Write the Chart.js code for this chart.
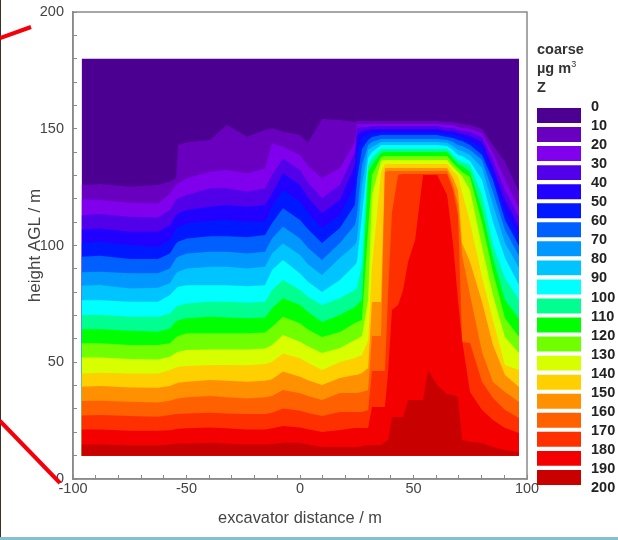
<!DOCTYPE html>
<html>
<head>
<meta charset="utf-8">
<script src="https://cdn.jsdelivr.net/npm/chart.js@4"></script>
<style>
html, body { margin: 0; padding: 0; background: #fff; overflow: hidden; }
#wrap { position: relative; width: 618px; height: 540px; font-family: "Liberation Sans", Arial, sans-serif; }
canvas { position: absolute; top: 0; filter: blur(0.45px); }
#contour { left: 0; }
#key { left: 537px; }
#edge { position: absolute; left: 0; top: 0; width: 1px; height: 537px; background: #3d3126; }
#foot { position: absolute; left: 0; top: 537px; width: 618px; height: 3px; background: #86bfd0; }
#keyhead { position: absolute; left: 537px; top: 40px; font-size: 14.5px; font-weight: bold; line-height: 19px; color: #333; }
#keyhead sup { font-size: 9px; font-weight: normal; line-height: 0; }
svg { position: absolute; left: 0; top: 0; }
</style>
</head>
<body>
<div id="wrap">
  <canvas id="contour" width="618" height="540"></canvas>
  <canvas id="key" width="81" height="540"></canvas>
  <div id="edge"></div>
  <div id="foot"></div>
  <div id="keyhead">coarse<br>µg m<sup>3</sup><br>Z</div>
  <svg width="618" height="540">
    <line x1="0" y1="38" x2="31" y2="27" stroke="#f5000a" stroke-width="4"/>
    <line x1="0" y1="421" x2="60" y2="483" stroke="#f5000a" stroke-width="4"/>
  </svg>
</div>
<script>
// contour levels, one band per 10 units
var levels = [0, 10, 20, 30, 40, 50, 60, 70, 80, 90, 100, 110, 120, 130, 140, 150, 160, 170, 180, 190]
var keyTicks = [0, 10, 20, 30, 40, 50, 60, 70, 80, 90, 100, 110, 120, 130, 140, 150, 160, 170, 180, 190, 200]
var bandColors = ['#4b0092', '#6a00bf', '#8000ee', '#5200ea', '#2200ff', '#0018ff', '#0060ff', '#0098ff', '#00c4ff', '#00ffff',
                  '#00ff90', '#00ff00', '#70ff00', '#d8ff00', '#ffd000', '#ff9000', '#ff6000', '#ff3000', '#f50000', '#c80000']

// excavator distance of each column
var xs = [-96.2, -88.1, -74.9, -62.6, -57.3, -54.6, -53.7, -49.8, -39.6, -32.2, -23.3, -15.4, -12.3, -7.5, 0, 3.5, 9.7, 17.6, 24.2,
          25.1, 27.3, 30, 31.7, 35.7,
          37.4, 38.8, 40.5, 43.2, 45.4, 47.6, 50.7, 54.2, 56.4, 60.4,
          64.8, 67.4, 69.6, 71.4, 74.9, 80.2, 85, 90.3, 96.5]

// height of the top of each band at each column
var band0 = [180,180,180,180,180,180,180,180,180,180,180,180,180,180,180,180,180,180,180, 180,180,180,180,180, 180,180,180,180,180,180,180,180,180,180, 180,180,180,180,180,180,180,180,180]
var band1 = [125.9,126.3,125.2,125.9,127.3,128.8,143,144.2,145.2,151.6,146.6,149.5,150.2,148.7,147.3,144,154.2,153.8,152.9, 153.3,153.3,153.3,153.3,153.3, 153.3,153.3,153.3,153.3,153.3,153.3,153.3,153.3,153.3,153.3, 152.9,152.9,152.5,152,151.6,149.9,143,135.8,122.9]
var band2 = [119.8,119.5,118.3,118,122.3,125.9,126.6,128.8,131.6,132.3,130.9,133,143.8,142.3,138.8,134,128.9,133.2,144.3, 152,152,152,152,152, 152,152,152,152,152,152,152,152,152,152, 151.6,151.6,150.8,150.3,149.9,148.2,139.6,128.1,116.1]
var band3 = [113,113.5,112.3,112,115.2,119.5,120.2,121.6,124.5,124.5,123,124.5,130.2,137.3,132.3,127,120.3,125.9,140.1, 150.3,150.8,150.8,151.2,151.2, 151.2,151.2,151.2,151.2,151.2,151.2,151.2,151.2,151.2,151.2, 150.3,150.3,149.5,149,148.6,146.5,136.6,123.8,112.2]
var band4 = [106.9,107.3,105.9,105.9,108.8,113,113.8,115.2,116.6,117.3,116.6,117.3,122.3,130.9,125.9,120.5,113.9,119.5,134.5, 147.3,149,149.5,149.9,149.9, 149.9,149.9,149.9,149.9,149.9,149.9,149.9,149.9,149.9,149.9, 149,149,148.2,147.8,146.9,144.3,133.6,119.5,107.9]
var band5 = [101.2,101.6,100.2,99.5,102.3,107.3,108,109.5,110.6,110.9,110.2,110.2,116.6,123.8,118.8,114,107.5,113.1,125.9, 140.1,146.5,147.8,148.2,148.6, 148.6,148.6,148.6,148.6,148.6,148.6,148.6,148.6,148.6,148.6, 147.8,147.8,146.9,146.5,144.8,142.2,130.2,115.2,104.1]
var band6 = [95.2,95.6,94.2,94.2,96.6,100.9,101.6,103,104,104,103.5,104.5,109.5,115.9,110.9,107,101.1,107.5,117.4, 128.1,141.3,145.2,146.5,147.3, 147.3,147.3,147.3,147.3,147.3,147.3,147.3,147.3,147.3,147.3, 146.5,146,145.2,144.8,143,138.8,128.1,110.9,99.8]
var band7 = [88.5,88.8,88.1,88.1,90.2,94.5,95.2,96.6,97.3,97.3,96.6,97.3,103,108,103,99,93.8,101.1,108.8, 113.1,134.5,143,144.3,145.6, 145.6,145.6,145.6,145.6,145.6,145.6,145.6,145.6,145.6,145.6, 145.2,144.3,143,142.6,140.9,136.6,122.9,106.6,95.5]
var band8 = [82.8,83.1,81.6,81.9,83.8,88.1,88.8,90.2,90.9,90.9,90.2,90.9,96.6,100.9,95.9,92,87.4,94.7,100.2, 102.4,125.9,140.9,142.2,144.3, 144.3,144.3,144.3,144.3,144.3,144.3,144.3,144.3,144.3,144.3, 143.9,142.6,140.9,140.5,138.8,133.2,117.4,101.1,90.4]
var band9 = [76.6,76.6,75.9,75.9,78.8,81.6,82.3,83,83,83,82.6,83,89.5,93.8,88,84.5,80.1,85.2,91.7, 92.9,113.1,137.5,140,143, 143,143,143,143,143,143,143,143,143,143, 142.6,140.9,138.8,138.3,136.2,128.1,110.1,94.7,83.1]
var band10 = [70.2,70.2,69.5,69.5,70.9,73.8,74.2,75.2,75.9,75.9,75.5,75.9,80.9,85.2,80.9,78,74.5,77.5,80.9, 81.8,91.7,134.5,137.5,141.3, 141.3,141.3,141.3,141.3,141.3,141.3,141.3,141.3,141.3,141.3, 141.3,138.8,136.6,135.8,134.5,121.6,100.2,86.1,76.7]
var band11 = [64.1,64.1,63.5,63.1,64.5,67.4,68,68.8,69.5,69.2,68.8,69.2,73.1,77.4,74.5,71.5,67.2,70.2,73.7, 74.5,76.7,131.5,134.5,139.6, 140,140,140,140,140,140,140,140,140,140, 140,137.1,134.9,134.1,131.5,115.2,94.7,76.7,68.5]
var band12 = [58.1,58.1,57.4,57.4,58.1,60.7,61.2,62.4,62.4,62.4,62.4,62.7,65.2,69.5,66.7,64,60.8,63,66.8, 67.2,68.1,106.6,130.2,137.9, 138.3,138.3,138.3,138.3,138.3,138.3,138.3,138.3,138.3,138.3, 138.3,135.3,133.2,131.5,129.3,109.6,88.7,69,60.8]
var band13 = [52,52,51.4,51.2,52.4,54.1,54.5,55.2,55.5,55.5,55.5,55.9,57.4,61.7,58.8,56.8,54,56.1,59.5, 60,61.2,76.7,121.6,136.2, 136.6,136.6,136.6,136.6,136.6,136.6,136.6,136.6,136.6,136.6, 136.6,133.6,131.5,129.8,123.8,99.4,78.8,60.8,54]
var band14 = [45.2,45.5,45.2,45.2,46.7,47.8,48.1,48.4,48.8,48.8,48.7,49.2,50.2,53.8,51.7,49.8,46.7,50.1,51.8, 52.3,53.1,59.5,90.8,131.5, 134.9,134.9,134.9,134.9,134.9,134.9,134.9,134.9,134.9,134.9, 134.9,131.9,129.8,122.9,110.1,86.5,68.1,48.8,46.7]
var band15 = [39.5,39.8,39.2,39.1,39.8,40.9,41.2,41.7,42.4,42.1,41.7,42.1,42.7,46,43.8,42.3,40.3,43.3,44.5, 44.5,45.4,47.5,75.8,75.8, 133.2,133.2,133.2,133.2,133.2,133.2,133.2,133.2,133.2,133.2, 133.2,128.9,123.8,101.1,92.9,75.8,57.4,44.5,39.4]
var band16 = [33.4,33.5,33.1,32.8,33.5,34.4,34.5,35,35.5,35,34.5,35,35.5,38.1,36.7,35.5,33.8,36.8,36.8, 36.8,37.3,38.1,61.2,61.2, 131.5,131.9,131.9,131.9,131.9,131.9,131.9,131.9,131.9,131.9, 131.9,125.9,117.4,95.9,78.8,54.4,41.5,37.3,33]
var band17 = [27.2,27.4,27,26.7,27.4,27.8,27.8,28.1,28.4,28.1,27.8,27.8,28.4,30.2,29.2,28.3,27,28.7,28.7, 28.7,28.7,29.6,46.3,46.3, 46.3,79.7,113.9,130.2,130.6,130.6,130.6,130.6,130.6,130.6, 130.6,123.8,113.1,58.7,58.2,41.5,34.7,29.6,26.1]
var band18 = [21.2,21.2,20.7,20.7,20.9,21.4,21.5,21.7,22.1,21.7,21.2,21.2,21.7,22.7,22.1,21.3,20.1,21,21.8, 21.8,21.8,21.8,30.8,30.8, 30.8,45.8,72.4,74.5,80.9,92.9,102.4,130.2,130.2,130.2, 121.6,101.1,76.7,59.5,37.3,29.6,25.3,21.8,19.7]
var band19 = [14.8,14.8,14.5,14.5,14.8,15.1,15.2,15.2,15.5,15.2,14.8,14.8,15,15.5,15.5,14.8,13.7,13.7,13.7, 13.7,14.1,14.6,14.6,14.6, 15.8,16.7,26.6,26.6,26.6,33.8,33.8,33.8,46.7,40.3, 36.4,36,35.1,16.7,15.8,15.4,13.7,12.4,11.6]

var bandTops = [band0, band1, band2, band3, band4, band5, band6, band7, band8, band9,
                band10, band11, band12, band13, band14, band15, band16, band17, band18, band19]

var baseHeight = 10
var axisColor = '#8a8a8a'
var textColor = '#444'

// first dataset is painted last, so the highest band goes first
var datasets = []
for (var k = levels.length - 1; k >= 0; k--) {
    datasets.push({
        label: String(levels[k]),
        data: xs.map(function (x, i) { return { x: x, y: bandTops[k][i] } }),
        backgroundColor: bandColors[k],
        borderWidth: 0,
        pointRadius: 0,
        tension: 0,
        fill: { value: baseHeight }
    })
}

var areaBorder = {
    id: 'areaBorder',
    afterDraw: function (chart) {
        var a = chart.chartArea, ctx = chart.ctx
        ctx.save()
        ctx.strokeStyle = axisColor
        ctx.lineWidth = 1.5
        ctx.strokeRect(a.left, a.top, a.right - a.left, a.bottom - a.top)
        ctx.restore()
    }
}

function every50(v) { return v % 50 === 0 ? v : '' }

new Chart(document.getElementById('contour'), {
    type: 'line',
    data: { datasets: datasets },
    plugins: [areaBorder],
    options: {
        responsive: false,
        animation: false,
        layout: { padding: { top: 12, right: 91, left: 0, bottom: 0 } },
        plugins: { legend: { display: false }, tooltip: { enabled: false } },
        scales: {
            x: {
                type: 'linear', min: -100, max: 100,
                afterFit: function (s) { s.height = 61; s.paddingLeft = 0; s.paddingRight = 0 },
                grid: { drawOnChartArea: false, tickLength: -4, tickColor: axisColor, tickWidth: 1 },
                border: { color: axisColor, width: 1.5 },
                ticks: { stepSize: 10, autoSkip: false, maxRotation: 0, padding: 5, color: textColor, font: { size: 14.5, family: 'Liberation Sans' }, callback: every50 },
                title: { display: true, text: 'excavator distance / m', color: textColor, font: { size: 16.4, family: 'Liberation Sans' }, padding: { top: 0, bottom: 12 } }
            },
            y: {
                min: 0, max: 200,
                afterFit: function (s) { s.width = 73; s.paddingTop = 0; s.paddingBottom = 0 },
                grid: { drawOnChartArea: false, tickLength: -4, tickColor: axisColor, tickWidth: 1 },
                border: { color: axisColor, width: 1.5 },
                ticks: { stepSize: 10, autoSkip: false, padding: 13, color: textColor, font: { size: 14.5, family: 'Liberation Sans' }, callback: every50 },
                title: { display: true, text: 'height AGL / m', color: textColor, font: { size: 17, family: 'Liberation Sans' }, padding: { top: 25, bottom: 0 } }
            }
        }
    }
})

// colour key: one floating bar per level on its own value axis
var keySets = levels.map(function (v, k) {
    return { label: String(v), data: [[v + 0.7, v + 8.2]], backgroundColor: bandColors[k], grouped: false, barPercentage: 1, categoryPercentage: 1 }
})

new Chart(document.getElementById('key'), {
    type: 'bar',
    data: { labels: ['Z'], datasets: keySets },
    options: {
        responsive: false,
        animation: false,
        layout: { padding: { top: 107, bottom: 52, left: 0, right: 0 } },
        plugins: { legend: { display: false }, tooltip: { enabled: false } },
        scales: {
            x: { display: false },
            y: {
                position: 'right', reverse: true, min: 0, max: 200,
                afterFit: function (s) { s.width = 37 },
                afterBuildTicks: function (s) { s.ticks = keyTicks.map(function (v) { return { value: v } }) },
                grid: { display: false, drawTicks: false },
                border: { display: false },
                ticks: { padding: 10, autoSkip: false, color: '#222', font: { size: 14.5, weight: 'bold', family: 'Liberation Sans' } }
            }
        }
    }
})
</script>
</body>
</html>
